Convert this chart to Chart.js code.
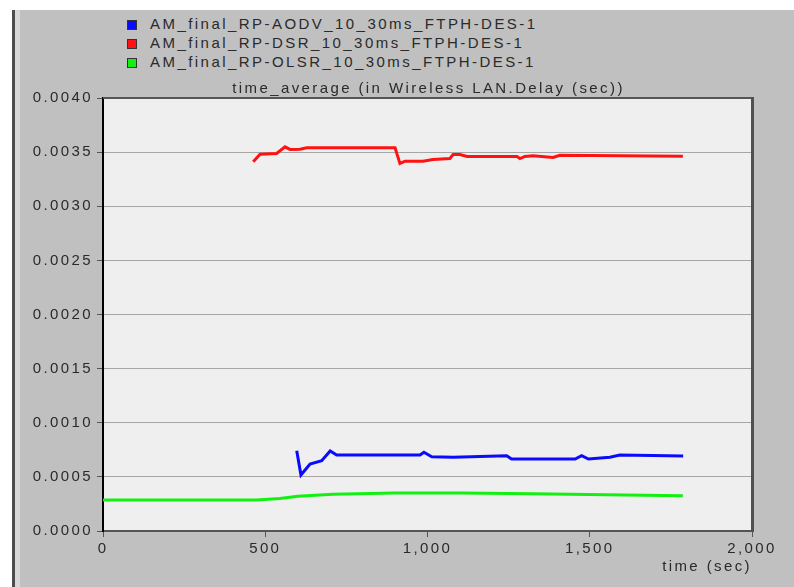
<!DOCTYPE html>
<html>
<head>
<meta charset="utf-8">
<title>time_average (in Wireless LAN.Delay (sec))</title>
<script src="https://cdn.jsdelivr.net/npm/chart.js@4.4.1/dist/chart.umd.min.js"></script>
<style>
  body { margin: 0; background: #fff; width: 794px; height: 587px; overflow: hidden; position: relative; }
  #panel { position: absolute; left: 12px; top: 10px; width: 779px; height: 577px; background: #c0c0c0;
           border-left: 3px solid #4d4d4d; box-shadow: inset 5px 0 0 #d8d8d8; }
  #chart { position: absolute; left: 20px; top: 10px; }
  #legend { position: absolute; left: 127px; top: 14px; font: 15px "Liberation Sans", Arial, sans-serif;
            letter-spacing: 2.45px; color: #2a2a2a; }
  #legend div { height: 19px; line-height: 19px; white-space: nowrap; }
  #legend span.box { display: inline-block; width: 8px; height: 8px; border: 1px solid #333;
                     margin-right: 13px; vertical-align: -1px; }
</style>
</head>
<body>
<div id="panel"></div>
<div id="legend"></div>
<canvas id="chart" width="774" height="577"></canvas>
<script>
// series names as shown in the legend
const seriesNames = [
    'AM_final_RP-AODV_10_30ms_FTPH-DES-1',
    'AM_final_RP-DSR_10_30ms_FTPH-DES-1',
    'AM_final_RP-OLSR_10_30ms_FTPH-DES-1'
];
const seriesColors = ['#0a0aff', '#ff1212', '#12f012'];
const chartTitle = 'time_average (in Wireless LAN.Delay (sec))';

// time (sec) / delay (sec)
const aodvTime  = [597, 610, 638, 674, 700, 720, 977, 989, 1013, 1079, 1244, 1259, 1285, 1455, 1475, 1496, 1562, 1593, 1788];
const aodvDelay = [0.000741, 0.000517, 0.000619, 0.000649, 0.000739, 0.000702, 0.000702, 0.000727, 0.000686, 0.000681,
                   0.000695, 0.000665, 0.000665, 0.000665, 0.000695, 0.000665, 0.000681, 0.000702, 0.000693];

const dsrTime  = [463, 484, 535, 561, 576, 607, 628, 900, 915, 931, 986, 1017, 1069, 1079, 1100, 1122, 1276, 1285, 1300,
                  1325, 1387, 1408, 1787];
const dsrDelay = [0.00341, 0.00348, 0.003488, 0.003549, 0.003525, 0.003527, 0.00354, 0.00354, 0.003395, 0.003416, 0.003416,
                  0.003432, 0.003441, 0.003478, 0.003478, 0.00346, 0.00346, 0.00344, 0.00346, 0.003466, 0.00345, 0.00347, 0.003463];

const olsrTime  = [0, 473, 545, 600, 709, 900, 1100, 1325, 1550, 1787];
const olsrDelay = [0.000286, 0.000286, 0.0003, 0.000322, 0.00034, 0.00035, 0.000352, 0.000343, 0.000335, 0.000326];

// axis ticks
const xTicks = [0, 500, 1000, 1500, 2000];
const yTicks = [0, 0.0005, 0.001, 0.0015, 0.002, 0.0025, 0.003, 0.0035, 0.004];

function points(times, values) {
    return times.map((t, i) => ({ x: t, y: values[i] }));
}

Chart.defaults.font.family = '"Liberation Sans", Arial, sans-serif';
Chart.defaults.font.size = 15;
Chart.defaults.color = '#2a2a2a';

// the reference text is wide-spaced
const spacing = {
    id: 'spacing',
    beforeLayout(chart) { chart.ctx.letterSpacing = '2.4px'; },
    beforeDraw(chart) { chart.ctx.letterSpacing = '2.4px'; }
};

// plot background, top/right frame and title over the plot
const plotFrame = {
    id: 'plotFrame',
    beforeDraw(chart) {
        const { ctx, chartArea: a } = chart;
        ctx.save();
        ctx.fillStyle = '#efefef';
        ctx.fillRect(a.left, a.top, a.right - a.left, a.bottom - a.top);
        ctx.restore();
    },
    afterDraw(chart) {
        const { ctx, chartArea: a } = chart;
        ctx.save();
        ctx.strokeStyle = '#555';
        ctx.lineWidth = 2;
        ctx.beginPath();
        ctx.moveTo(a.left, a.top);
        ctx.lineTo(a.right, a.top);
        ctx.stroke();
        ctx.strokeStyle = '#505050';
        ctx.lineWidth = 3;
        ctx.beginPath();
        ctx.moveTo(a.right + 0.5, a.top - 1);
        ctx.lineTo(a.right + 0.5, a.bottom + 1);
        ctx.stroke();
        ctx.fillStyle = '#2a2a2a';
        ctx.font = '15px "Liberation Sans", Arial, sans-serif';
        ctx.textAlign = 'center';
        ctx.textBaseline = 'middle';
        ctx.fillText(chartTitle, (a.left + a.right) / 2 + 1, a.top - 9);
        ctx.restore();
    }
};

const chart = new Chart(document.getElementById('chart'), {
    type: 'line',
    data: {
        datasets: [
            { label: seriesNames[0], data: points(aodvTime, aodvDelay) },
            { label: seriesNames[1], data: points(dsrTime, dsrDelay) },
            { label: seriesNames[2], data: points(olsrTime, olsrDelay) }
        ].map((d, i) => Object.assign(d, {
            borderColor: seriesColors[i],
            backgroundColor: seriesColors[i],
            borderWidth: 3,
            pointRadius: 0,
            tension: 0,
            fill: false
        }))
    },
    options: {
        responsive: false,
        animation: false,
        events: [],
        layout: { padding: { top: 88, right: 42, bottom: 7, left: 0 } },
        plugins: {
            legend: { display: false },
            title: { display: false },
            tooltip: { enabled: false }
        },
        scales: {
            x: {
                type: 'linear',
                min: 0,
                max: 2000,
                afterBuildTicks: (s) => { s.ticks = xTicks.map(v => ({ value: v })); },
                afterFit: (s) => { s.height = 49; },
                ticks: {
                    maxRotation: 0,
                    padding: 3,
                    callback: (v) => v.toLocaleString('en-US')
                },
                grid: { drawOnChartArea: false, drawTicks: true, tickLength: 6, tickColor: '#555' },
                border: { color: '#555', width: 2 },
                title: { display: true, text: 'time (sec)', align: 'end', padding: { top: 0, bottom: 4 } }
            },
            y: {
                min: 0,
                max: 0.004,
                afterBuildTicks: (s) => { s.ticks = yTicks.map(v => ({ value: v })); },
                afterFit: (s) => { s.width = 83; },
                ticks: {
                    padding: 4,
                    callback: (v) => v.toFixed(4)
                },
                grid: { color: '#a6a6a6', lineWidth: 1, tickLength: 6, tickColor: '#555' },
                border: { color: '#000', width: 2 }
            }
        }
    },
    plugins: [spacing, plotFrame]
});

// legend rows built from the chart's own datasets
const legendBox = document.getElementById('legend');
chart.data.datasets.forEach((d) => {
    const row = document.createElement('div');
    const box = document.createElement('span');
    box.className = 'box';
    box.style.background = d.borderColor;
    row.appendChild(box);
    row.appendChild(document.createTextNode(d.label));
    legendBox.appendChild(row);
});
</script>
</body>
</html>
